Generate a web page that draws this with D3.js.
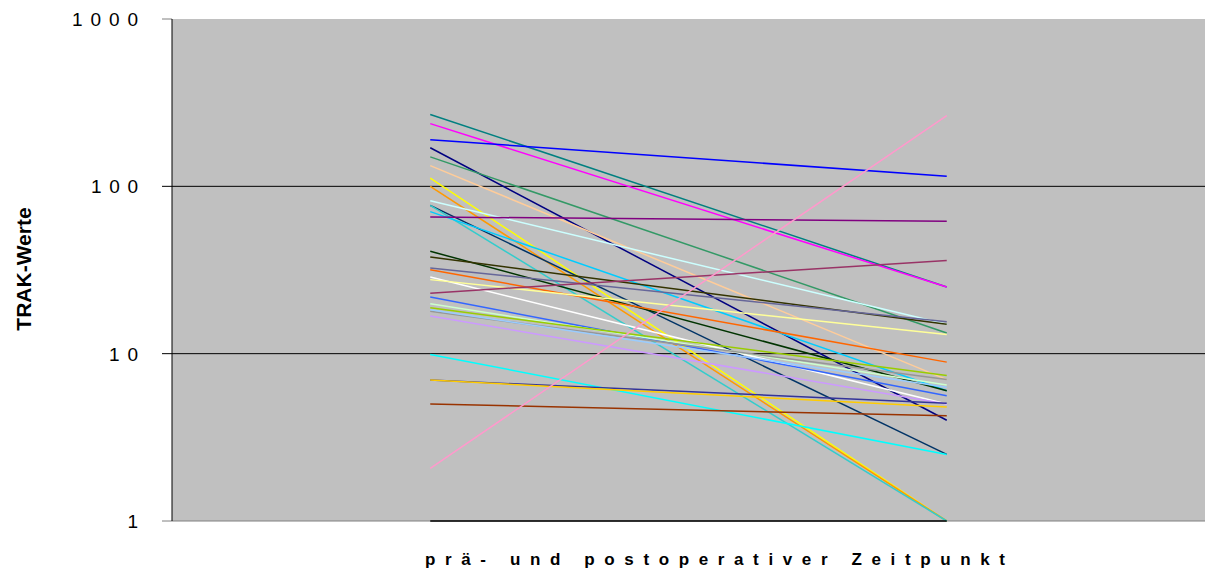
<!DOCTYPE html>
<html>
    <head>
        <meta charset="utf-8">
        <script src="https://d3js.org/d3.v7.min.js"></script>
        <title>TRAK-Werte</title>
    </head>
    <body>
        <div id="my_dataviz"></div>
    </body>
    <style>
        body {
            margin: 0;
            background: #fff;
            font-family: Arial, "Liberation Sans", Helvetica, sans-serif;
        }
    </style>
    <script>
        // two time points, one line per patient
        var categories = ["prä", "post"];
        var tickValues = [1, 10, 100, 1000];
        var tickLabels = ["1", "1 0", "1 0 0", "1 0 0 0"];

        var preValues  = [269, 237, 190, 170, 150, 133, 112, 100, 82, 77, 77, 70.6, 65.6,
                          40.9, 37.8, 32.5, 31.7, 28.7, 27.7, 23, 21.8, 19.9, 18.8, 17.9, 18.3,
                          16.8, 9.9, 6.95, 6.95, 5, 2.06, 1];
        var postValues = [25, 25, 115, 4, 13.3, 7, 1, 1, 15, 2.5, 1, 6, 61.8,
                          6, 15, 15.5, 8.9, 5, 13, 36, 5.6, 6.5, 7.4, 7, 6.3,
                          5, 2.5, 5.05, 4.8, 4.25, 265, 1];
        var seriesColors = ["#008080", "#FF00FF", "#0000FF", "#000080", "#339966", "#FFCC99", "#FFFF00", "#FF9900",
                            "#CCFFFF", "#003366", "#33CCCC", "#00CCFF", "#800080", "#003300", "#333300", "#666699",
                            "#FF6600", "#FFFFFF", "#FFFF99", "#993366", "#3366FF", "#CCFFCC", "#99CC00", "#969696",
                            "#99CCFF", "#CC99FF", "#00FFFF", "#333399", "#FFCC00", "#993300", "#FF99CC", "#000000"];

        var W = 1205, H = 579;
        var margin = {top: 19, right: 0, bottom: 58, left: 172},
            width = W - margin.left - margin.right,
            height = H - margin.top - margin.bottom;

        var svg = d3.select("#my_dataviz")
            .append("svg")
            .attr("width", W)
            .attr("height", H)
            .append("g")
            .attr("transform", "translate(" + margin.left + "," + margin.top + ")");

        var x = d3.scalePoint()
            .domain(categories)
            .range([0, width])
            .padding(0.5);

        var y = d3.scaleLog()
            .domain([1, 1000])
            .range([height, 0]);

        // plot background
        svg.append("rect")
            .attr("width", width)
            .attr("height", height)
            .attr("fill", "#C0C0C0");

        // gridlines at 10 and 100
        svg.append("g")
            .selectAll("line")
            .data([10, 100])
            .enter()
            .append("line")
            .attr("x1", -10)
            .attr("x2", width)
            .attr("y1", function (d) { return y(d); })
            .attr("y2", function (d) { return y(d); })
            .attr("stroke", "#000")
            .attr("stroke-width", 1);

        // top tick and bottom axis line (gray)
        svg.append("line")
            .attr("x1", -10).attr("x2", 0)
            .attr("y1", y(1000)).attr("y2", y(1000))
            .attr("stroke", "#808080");
        svg.append("line")
            .attr("x1", -10).attr("x2", width)
            .attr("y1", y(1)).attr("y2", y(1))
            .attr("stroke", "#808080");

        // value axis line
        svg.append("line")
            .attr("x1", 0).attr("x2", 0)
            .attr("y1", 0).attr("y2", height)
            .attr("stroke", "#000");

        // tick labels, spaced out like the original
        svg.append("g")
            .selectAll("text")
            .data(tickValues)
            .enter()
            .append("text")
            .attr("x", -34)
            .attr("y", function (d) { return y(d); })
            .attr("dy", "0.36em")
            .attr("text-anchor", "end")
            .attr("textLength", function (d, i) { return i === 0 ? null : [0, 29, 47, 66][i]; })
            .attr("lengthAdjust", "spacing")
            .style("font-size", "19px")
            .attr("fill", "#000")
            .text(function (d, i) { return tickLabels[i]; });

        // series
        var series = preValues.map(function (v, i) {
            return {color: seriesColors[i], values: [v, postValues[i]]};
        });

        var line = d3.line()
            .x(function (d, i) { return x(categories[i]); })
            .y(function (d) { return y(d); });

        svg.append("g")
            .selectAll("path")
            .data(series)
            .enter()
            .append("path")
            .attr("d", function (d) { return line(d.values); })
            .attr("fill", "none")
            .attr("stroke", function (d) { return d.color; })
            .attr("stroke-width", 1.5);

        // axis titles
        d3.select("svg").append("text")
            .attr("transform", "translate(31," + 269 + ") rotate(-90)")
            .attr("text-anchor", "middle")
            .style("font-size", "21px")
            .style("font-weight", "bold")
            .text("TRAK-Werte");

        d3.select("svg").append("text")
            .attr("x", 425)
            .attr("y", 565)
            .attr("textLength", 580)
            .attr("lengthAdjust", "spacing")
            .style("font-size", "17px")
            .style("font-weight", "bold")
            .text("prä- und postoperativer Zeitpunkt");
    </script>
</html>
